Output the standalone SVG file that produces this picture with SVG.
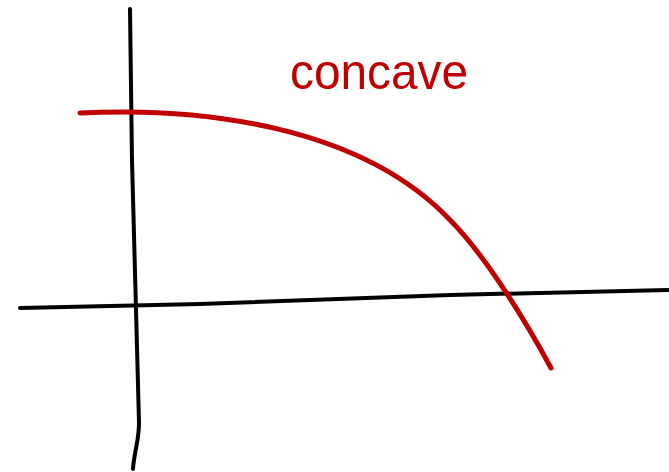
<svg xmlns="http://www.w3.org/2000/svg" width="669" height="472" viewBox="0 0 669 472">
<style>
.axis{fill:none;stroke:#000;stroke-width:4;stroke-linecap:round;stroke-linejoin:round}
.curve{fill:none;stroke:#c00000;stroke-width:5;stroke-linecap:round}
.label{font-family:"Liberation Sans",Arial,sans-serif;font-size:50px;fill:#c00000}
</style>
<rect width="669" height="472" fill="#fff"/>
<g id="axes">
<path class="axis" d="M20,308 L200,304 L450,295 L668,290"/>
<path class="axis" d="M130,9 C131,60 131,110 132,160 C134,250 137,340 139,422 C139.3,440 134,452 133,469"/>
</g>
<g id="curve">
<path class="curve" d="M80,113 C200,107 360,125 450,220 C485,255 525,320 551,368"/>
</g>
<g id="label">
<text class="label" x="290" y="89" textLength="178" lengthAdjust="spacingAndGlyphs">concave</text>
</g>
</svg>
